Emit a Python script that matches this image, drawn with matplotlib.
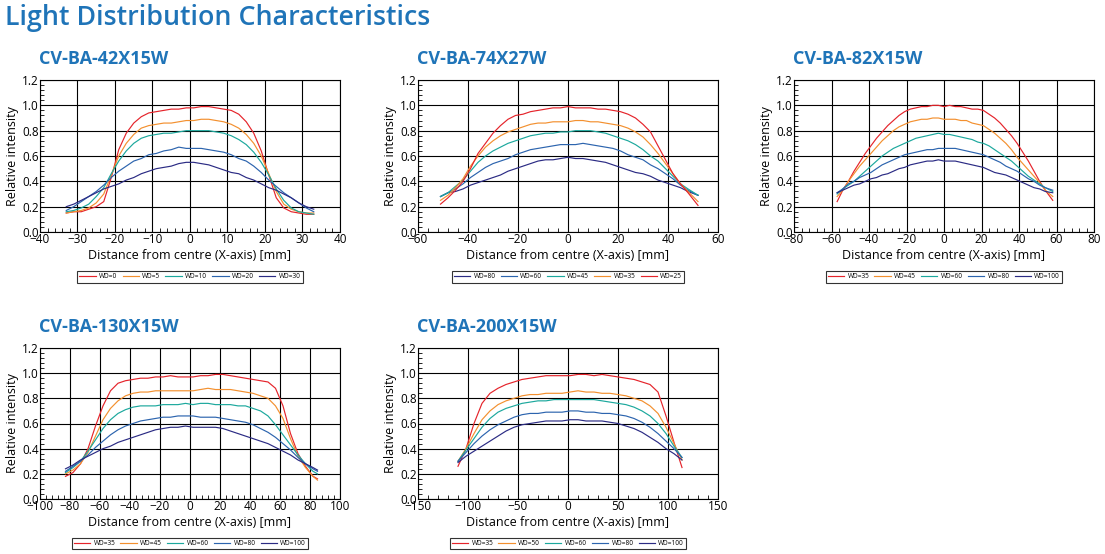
import matplotlib
matplotlib.use("Agg")
import matplotlib.pyplot as plt
from matplotlib.ticker import MultipleLocator, AutoMinorLocator

plt.rcParams['font.family'] = ['Open Sans', 'DejaVu Sans']

BLUE_TXT = '#1f74b8'
RED = '#e5242b'
ORANGE = '#f3902f'
TEAL = '#1ca89d'
BLUE = '#2c64ae'
NAVY = '#2b2b84'

# ---------------- CV-BA-42X15W ----------------
x_42 = [-33, -31, -29, -27, -25, -23, -21, -19, -17, -15, -13, -11, -9, -7, -5, -3, -1,
        1, 3, 5, 7, 9, 11, 13, 15, 17, 19, 21, 23, 25, 27, 29, 31, 33]
wd0_42 = [.15, .16, .16, .18, .20, .24, .43, .65, .78, .86, .91, .94, .95, .96, .97, .97, .98,
          .98, .99, .99, .98, .97, .96, .93, .87, .78, .64, .45, .27, .19, .16, .15, .14, .14]
wd5_42 = [.15, .16, .17, .19, .23, .30, .45, .60, .70, .77, .82, .84, .85, .86, .86, .87, .88,
          .88, .89, .89, .88, .87, .85, .82, .77, .70, .60, .46, .32, .22, .18, .16, .15, .15]
wd10_42 = [.16, .17, .19, .22, .28, .35, .46, .56, .64, .70, .74, .76, .77, .78, .78, .79, .80,
           .80, .80, .80, .79, .78, .76, .73, .69, .63, .55, .45, .34, .25, .19, .16, .15, .14]
wd20_42 = [.17, .20, .24, .28, .32, .37, .43, .48, .52, .56, .58, .61, .62, .64, .65, .67, .66,
           .66, .66, .65, .64, .63, .61, .58, .56, .52, .47, .41, .36, .31, .27, .23, .19, .16]
wd30_42 = [.20, .22, .25, .28, .31, .34, .36, .38, .41, .43, .46, .48, .50, .51, .52, .54, .55,
           .55, .54, .53, .51, .49, .47, .46, .43, .41, .38, .35, .33, .30, .27, .23, .20, .18]

# ---------------- CV-BA-74X27W ----------------
x_74 = [-51, -48, -45, -42, -39, -36, -33, -30, -27, -24, -21, -18, -15, -12, -9, -6, -3, 0,
        3, 6, 9, 12, 15, 18, 21, 24, 27, 30, 33, 36, 39, 42, 45, 48, 52]
wd80_74 = [.28, .31, .32, .34, .37, .39, .41, .43, .45, .48, .50, .52, .54, .56, .57, .57, .58, .59,
           .58, .58, .57, .56, .55, .53, .51, .49, .47, .46, .44, .41, .39, .37, .35, .32, .29]
wd60_74 = [.28, .31, .34, .38, .43, .47, .51, .54, .56, .58, .61, .63, .65, .66, .67, .68, .69, .69,
           .69, .70, .69, .68, .67, .66, .64, .61, .59, .57, .53, .50, .46, .42, .37, .33, .29]
wd45_74 = [.28, .31, .36, .41, .48, .55, .60, .64, .67, .70, .72, .74, .76, .77, .78, .78, .79, .79,
           .80, .80, .80, .79, .78, .76, .74, .72, .69, .65, .60, .56, .50, .44, .38, .34, .29]
wd35_74 = [.25, .29, .35, .42, .52, .60, .67, .72, .76, .79, .81, .83, .85, .86, .86, .87, .87, .87,
           .88, .88, .87, .87, .86, .85, .84, .82, .79, .75, .69, .62, .54, .46, .38, .32, .24]
wd25_74 = [.22, .27, .33, .40, .50, .62, .70, .78, .84, .89, .92, .93, .95, .96, .97, .98, .98, .99,
           .98, .98, .98, .97, .97, .96, .95, .93, .90, .85, .79, .68, .57, .46, .38, .31, .21]

# ---------------- CV-BA-82X15W ----------------
x_82 = [-57, -54, -51, -48, -45, -42, -39, -36, -33, -30, -27, -24, -21, -18, -15, -12, -9, -6, -3,
        0, 3, 6, 9, 12, 15, 18, 21, 24, 27, 30, 33, 36, 39, 42, 45, 48, 51, 54, 58]
wd35_82 = [.24, .33, .40, .48, .55, .62, .68, .74, .79, .84, .88, .92, .95, .97, .98, .99, .99, 1.0, 1.0,
           .99, 1.0, .99, .99, .98, .97, .97, .96, .93, .90, .86, .81, .76, .70, .63, .56, .48, .40, .33, .25]
wd45_82 = [.28, .33, .40, .46, .52, .57, .62, .67, .72, .76, .80, .83, .85, .87, .88, .89, .89, .90, .90,
           .89, .89, .89, .88, .88, .86, .85, .84, .81, .78, .74, .70, .65, .59, .54, .49, .44, .39, .33, .28]
wd60_82 = [.30, .34, .37, .40, .44, .48, .52, .56, .60, .63, .66, .68, .70, .72, .74, .75, .76, .77, .78,
           .77, .77, .76, .75, .74, .73, .71, .70, .68, .65, .62, .59, .56, .52, .48, .44, .41, .38, .35, .32]
wd80_82 = [.31, .34, .38, .40, .43, .45, .47, .50, .53, .55, .57, .59, .61, .62, .63, .64, .65, .65, .66,
           .66, .66, .66, .65, .64, .63, .62, .61, .59, .57, .55, .52, .50, .48, .45, .42, .40, .37, .35, .33]
wd100_82 = [.31, .33, .35, .37, .38, .40, .42, .43, .45, .46, .48, .50, .51, .53, .54, .55, .56, .56, .57,
            .56, .56, .56, .55, .54, .53, .52, .51, .49, .47, .46, .45, .43, .41, .39, .37, .35, .34, .32, .31]

# ---------------- CV-BA-130X15W ----------------
x_130 = [-83, -78, -73, -68, -63, -58, -53, -48, -43, -38, -33, -28, -23, -18, -13, -8, -3,
         2, 7, 12, 17, 22, 27, 32, 37, 42, 47, 52, 57, 62, 67, 72, 77, 82, 85]
wd35_130 = [.18, .21, .28, .40, .58, .74, .86, .92, .94, .95, .96, .96, .97, .97, .98, .97, .97,
            .97, .98, .98, .99, .99, .98, .97, .96, .95, .94, .93, .88, .74, .52, .36, .26, .18, .16]
wd45_130 = [.20, .23, .28, .37, .50, .63, .72, .78, .82, .84, .85, .85, .86, .86, .86, .86, .86,
            .86, .87, .88, .87, .87, .87, .86, .85, .84, .82, .80, .74, .64, .48, .34, .25, .18, .15]
wd60_130 = [.21, .25, .30, .38, .47, .56, .63, .68, .71, .73, .74, .74, .74, .75, .75, .75, .76,
            .75, .76, .76, .75, .75, .75, .74, .74, .72, .70, .66, .59, .51, .43, .35, .28, .22, .20]
wd80_130 = [.22, .26, .30, .35, .41, .46, .51, .55, .58, .60, .62, .63, .64, .65, .65, .66, .66,
            .66, .65, .65, .65, .64, .63, .62, .61, .59, .56, .53, .49, .44, .39, .33, .28, .24, .22]
wd100_130 = [.24, .27, .31, .34, .37, .40, .42, .45, .47, .49, .51, .53, .55, .56, .57, .57, .58,
             .57, .57, .57, .57, .56, .54, .52, .50, .48, .46, .44, .41, .38, .35, .31, .28, .25, .23]

# ---------------- CV-BA-200X15W ----------------
x_200 = [-110, -102, -94, -86, -78, -70, -62, -54, -46, -38, -30, -22, -14, -6,
         2, 10, 18, 26, 34, 42, 50, 58, 66, 74, 82, 90, 98, 106, 114]
wd35_200 = [.26, .40, .60, .76, .84, .88, .91, .93, .95, .96, .97, .98, .98, .98,
            .98, .99, .99, .98, .99, .98, .97, .96, .95, .93, .91, .85, .66, .45, .25]
wd50_200 = [.30, .40, .52, .63, .70, .75, .78, .80, .82, .83, .83, .84, .84, .84,
            .85, .86, .85, .85, .84, .84, .83, .82, .80, .78, .74, .68, .57, .44, .31]
wd60_200 = [.30, .39, .48, .57, .64, .69, .72, .74, .76, .77, .78, .78, .79, .79,
            .79, .79, .79, .79, .78, .77, .76, .75, .73, .70, .66, .60, .52, .42, .33]
wd80_200 = [.30, .37, .44, .50, .55, .59, .62, .65, .67, .68, .68, .69, .69, .69,
            .70, .70, .69, .69, .68, .68, .67, .66, .64, .61, .57, .52, .46, .40, .33]
wd100_200 = [.29, .34, .38, .42, .46, .50, .54, .57, .59, .60, .61, .62, .62, .62,
             .63, .63, .62, .62, .62, .61, .60, .58, .56, .53, .49, .45, .40, .36, .31]

charts = [
    ('CV-BA-42X15W', x_42, (-40, 40), 10,
     [('WD=0', wd0_42, RED), ('WD=5', wd5_42, ORANGE), ('WD=10', wd10_42, TEAL),
      ('WD=20', wd20_42, BLUE), ('WD=30', wd30_42, NAVY)]),
    ('CV-BA-74X27W', x_74, (-60, 60), 20,
     [('WD=80', wd80_74, NAVY), ('WD=60', wd60_74, BLUE), ('WD=45', wd45_74, TEAL),
      ('WD=35', wd35_74, ORANGE), ('WD=25', wd25_74, RED)]),
    ('CV-BA-82X15W', x_82, (-80, 80), 20,
     [('WD=35', wd35_82, RED), ('WD=45', wd45_82, ORANGE), ('WD=60', wd60_82, TEAL),
      ('WD=80', wd80_82, BLUE), ('WD=100', wd100_82, NAVY)]),
    ('CV-BA-130X15W', x_130, (-100, 100), 20,
     [('WD=35', wd35_130, RED), ('WD=45', wd45_130, ORANGE), ('WD=60', wd60_130, TEAL),
      ('WD=80', wd80_130, BLUE), ('WD=100', wd100_130, NAVY)]),
    ('CV-BA-200X15W', x_200, (-150, 150), 50,
     [('WD=35', wd35_200, RED), ('WD=50', wd50_200, ORANGE), ('WD=60', wd60_200, TEAL),
      ('WD=80', wd80_200, BLUE), ('WD=100', wd100_200, NAVY)]),
]

W, H = 1105, 554
# axes boxes in pixels: left, top, right, bottom
boxes = [(40, 80, 340, 232), (418, 80, 718, 232), (794, 80, 1094, 232),
         (40, 348, 340, 499), (418, 348, 718, 499)]

fig = plt.figure(figsize=(W / 100, H / 100), dpi=100)
fig.text(5 / W, 1 - 18 / H, 'Light Distribution Characteristics', fontsize=19.3,
         fontweight='semibold', color=BLUE_TXT, ha='left', va='center')

for (name, xs, xlim, xstep, series), (l, t, r, b) in zip(charts, boxes):
    ax = fig.add_axes([l / W, 1 - b / H, (r - l) / W, (b - t) / H])
    for lab, ys, col in series:
        ax.plot(xs, ys, color=col, lw=0.85, label=lab)
    ax.set_xlim(*xlim)
    ax.set_ylim(0, 1.2)
    ax.xaxis.set_major_locator(MultipleLocator(xstep))
    ax.yaxis.set_major_locator(MultipleLocator(0.2))
    ax.xaxis.set_minor_locator(AutoMinorLocator(5))
    ax.yaxis.set_minor_locator(AutoMinorLocator(5))
    ax.yaxis.set_major_formatter(plt.FormatStrFormatter('%.1f'))
    ax.grid(True, which='major', color='black', lw=0.8)
    ax.tick_params(which='both', direction='in', labelsize=8.5, pad=1)
    ax.tick_params(which='major', length=0)
    ax.tick_params(which='minor', length=3, width=0.6)
    for s in ax.spines.values():
        s.set_linewidth(0.8)
    ax.set_xlabel('Distance from centre (X-axis) [mm]', fontsize=9, labelpad=2)
    ax.set_ylabel('Relative intensity', fontsize=9, labelpad=2)
    ax.text(-0.005, 1.14, name, transform=ax.transAxes, fontsize=13,
            fontweight='bold', color=BLUE_TXT, ha='left', va='center')
    leg = ax.legend(loc='upper center', bbox_to_anchor=(0.5, -0.235), ncol=5,
                    fontsize=4.7, frameon=True, fancybox=False, edgecolor='black',
                    handlelength=2.5, handletextpad=0.5, columnspacing=0.8,
                    borderpad=0.35)
    leg.get_frame().set_linewidth(0.8)

fig.savefig('out.png', dpi=100)
